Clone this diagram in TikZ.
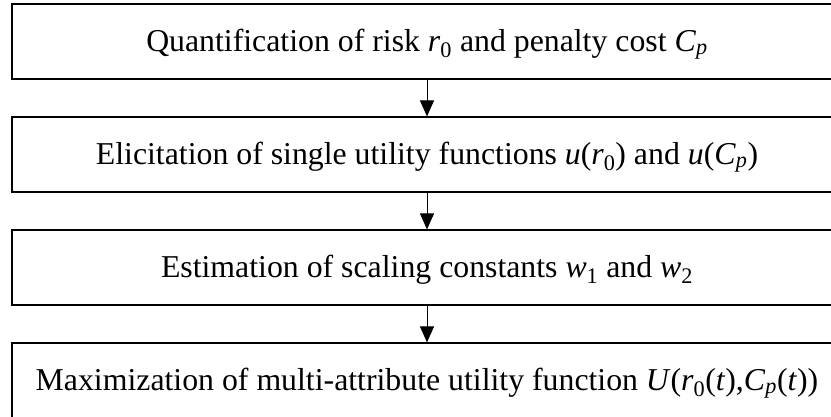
\documentclass[tikz,border=0pt]{standalone}
\usepackage{fontspec}
\setmainfont{Liberation Serif}
\usetikzlibrary{arrows.meta}
\newcommand\vi[1]{\textit{#1}}
\newcommand\sub[1]{\textsubscript{#1}}
\begin{document}
\begin{tikzpicture}[x=1pt,y=-1pt,
  stagebox/.style={draw, line width=1.2pt, minimum width=830pt, minimum height=75pt,
    inner sep=0pt, text height=26pt, text depth=7pt,
    font=\fontsize{31.8}{36}\selectfont},
  flow/.style={line width=1pt, -{Triangle[length=16pt,width=14pt]}}]
\useasboundingbox (0,0) rectangle (831,416);
\clip (0,0) rectangle (831,416);
% four stages of the procedure, stacked top to bottom
\node[stagebox] (q) at (427,41.5)
  {Quantification of risk \vi{r}\sub{0} and penalty cost \vi{C}\sub{\vi{p}}};
\node[stagebox] (e) at (427,154.5)
  {Elicitation of single utility functions \vi{u}(\vi{r}\sub{0}) and \vi{u}(\vi{C}\sub{\vi{p}})};
\node[stagebox] (s) at (427,267.5)
  {Estimation of scaling constants \vi{w}\sub{1} and \vi{w}\sub{2}};
\node[stagebox] (m) at (427,380.5)
  {Maximization of multi-attribute utility function \vi{U}(\vi{r}\sub{0}(\vi{t}),\vi{C}\sub{\vi{p}}(\vi{t}))};
% arrows between consecutive stages
\draw[flow] (q) -- (e);
\draw[flow] (e) -- (s);
\draw[flow] (s) -- (m);
\end{tikzpicture}
\end{document}
